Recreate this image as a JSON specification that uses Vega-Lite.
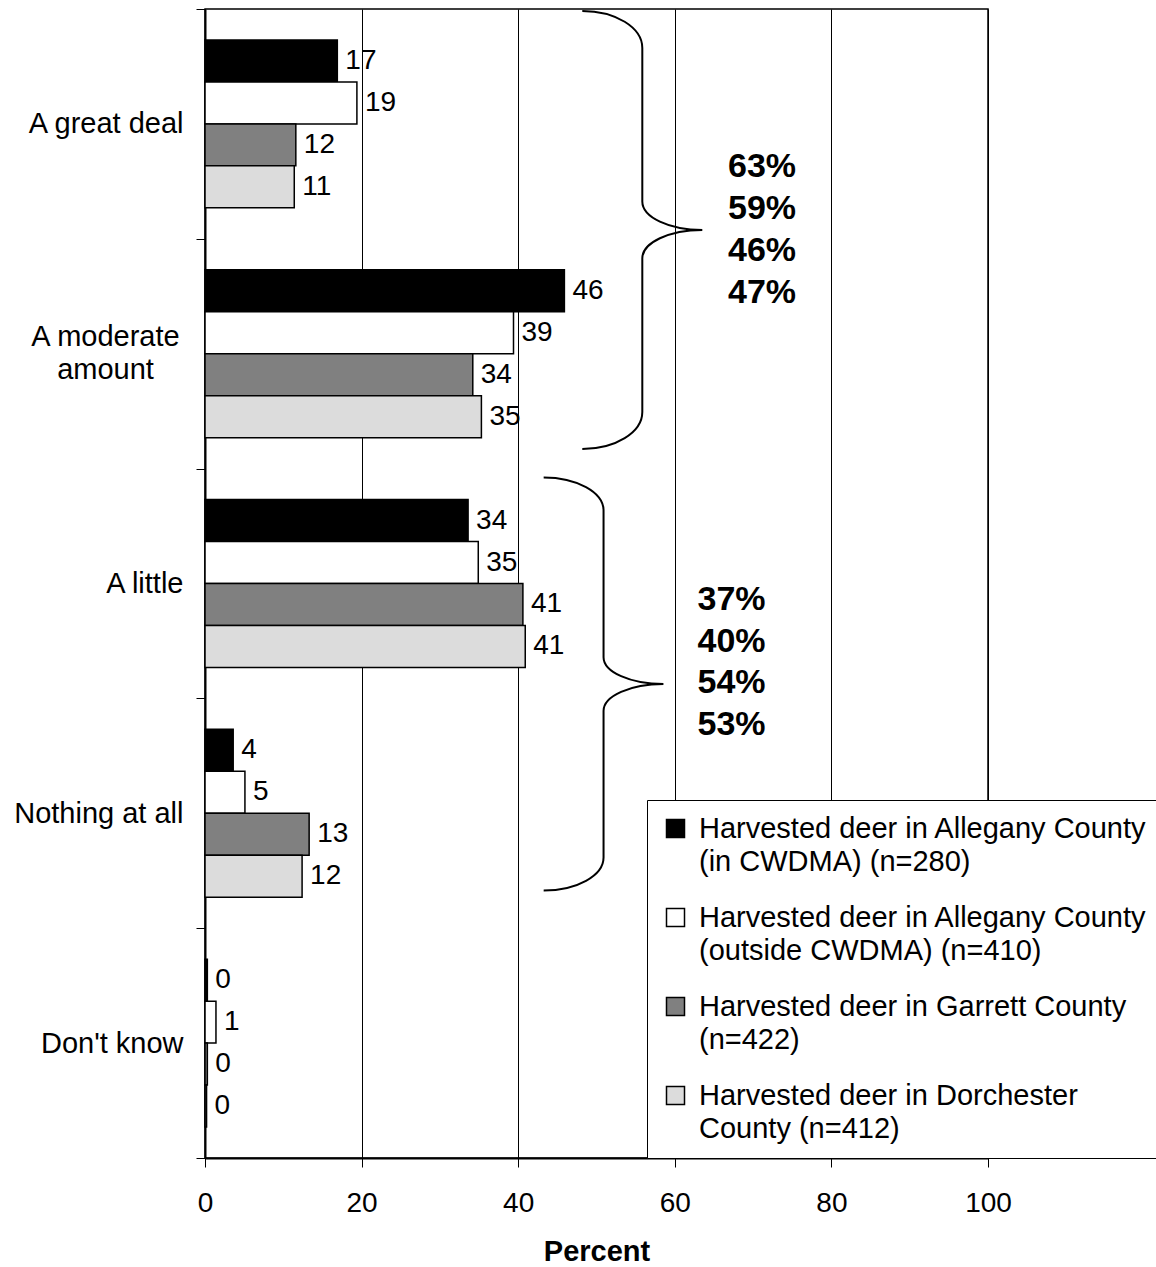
{
  "$schema": "https://vega.github.io/schema/vega-lite/v6.json",
  "width": 783,
  "height": 1149,
  "autosize": {"type": "none"},
  "padding": {"left": 205, "top": 9, "right": 168, "bottom": 109},
  "background": "white",
  "config": {
    "font": "Liberation Sans",
    "view": {"stroke": "black", "strokeWidth": 1.5},
    "style": {"guide-label": {"lineHeight": 33}}
  },
  "datasets": {
    "bars": [
      {"response": "A great deal", "group": "Harvested deer in Allegany County (in CWDMA) (n=280)", "percent": 16.9},
      {"response": "A great deal", "group": "Harvested deer in Allegany County (outside CWDMA) (n=410)", "percent": 19.4},
      {"response": "A great deal", "group": "Harvested deer in Garrett County (n=422)", "percent": 11.6},
      {"response": "A great deal", "group": "Harvested deer in Dorchester County (n=412)", "percent": 11.4},
      {"response": "A moderate amount", "group": "Harvested deer in Allegany County (in CWDMA) (n=280)", "percent": 45.9},
      {"response": "A moderate amount", "group": "Harvested deer in Allegany County (outside CWDMA) (n=410)", "percent": 39.4},
      {"response": "A moderate amount", "group": "Harvested deer in Garrett County (n=422)", "percent": 34.2},
      {"response": "A moderate amount", "group": "Harvested deer in Dorchester County (n=412)", "percent": 35.3},
      {"response": "A little", "group": "Harvested deer in Allegany County (in CWDMA) (n=280)", "percent": 33.6},
      {"response": "A little", "group": "Harvested deer in Allegany County (outside CWDMA) (n=410)", "percent": 34.9},
      {"response": "A little", "group": "Harvested deer in Garrett County (n=422)", "percent": 40.6},
      {"response": "A little", "group": "Harvested deer in Dorchester County (n=412)", "percent": 40.9},
      {"response": "Nothing at all", "group": "Harvested deer in Allegany County (in CWDMA) (n=280)", "percent": 3.6},
      {"response": "Nothing at all", "group": "Harvested deer in Allegany County (outside CWDMA) (n=410)", "percent": 5.1},
      {"response": "Nothing at all", "group": "Harvested deer in Garrett County (n=422)", "percent": 13.3},
      {"response": "Nothing at all", "group": "Harvested deer in Dorchester County (n=412)", "percent": 12.4},
      {"response": "Don't know", "group": "Harvested deer in Allegany County (in CWDMA) (n=280)", "percent": 0.3},
      {"response": "Don't know", "group": "Harvested deer in Allegany County (outside CWDMA) (n=410)", "percent": 1.4},
      {"response": "Don't know", "group": "Harvested deer in Garrett County (n=422)", "percent": 0.3},
      {"response": "Don't know", "group": "Harvested deer in Dorchester County (n=412)", "percent": 0.2}
    ],
    "totals": [
      {"span": "A great deal or a moderate amount", "group": "Harvested deer in Allegany County (in CWDMA) (n=280)", "share": 0.63},
      {"span": "A great deal or a moderate amount", "group": "Harvested deer in Allegany County (outside CWDMA) (n=410)", "share": 0.59},
      {"span": "A great deal or a moderate amount", "group": "Harvested deer in Garrett County (n=422)", "share": 0.46},
      {"span": "A great deal or a moderate amount", "group": "Harvested deer in Dorchester County (n=412)", "share": 0.47},
      {"span": "A little or nothing at all", "group": "Harvested deer in Allegany County (in CWDMA) (n=280)", "share": 0.37},
      {"span": "A little or nothing at all", "group": "Harvested deer in Allegany County (outside CWDMA) (n=410)", "share": 0.40},
      {"span": "A little or nothing at all", "group": "Harvested deer in Garrett County (n=422)", "share": 0.54},
      {"span": "A little or nothing at all", "group": "Harvested deer in Dorchester County (n=412)", "share": 0.53}
    ]
  },
  "layer": [
    {
      "data": {"name": "bars"},
      "mark": {"type": "bar", "stroke": "black", "strokeWidth": 1.5},
      "encoding": {
        "y": {
          "field": "response", "type": "nominal",
          "scale": {"domain": ["A great deal", "A moderate amount", "A little", "Nothing at all", "Don't know"], "paddingInner": 0, "paddingOuter": 0},
          "axis": {
            "title": null, "labelFontSize": 29, "labelColor": "black",
            "labelPadding": {"condition": {"test": "datum.value == 'A moderate amount'", "value": 91}, "value": 13},
            "labelAlign": {"condition": {"test": "datum.value == 'A moderate amount'", "value": "center"}, "value": "right"},
            "labelOffset": {"condition": {"test": "datum.value == 'A moderate amount'", "value": -17}, "value": 0},
            "tickBand": "extent", "tickSize": 9, "tickColor": "black", "tickWidth": 1,
            "domainColor": "black", "domainWidth": 2, "labelLimit": 300, "grid": false,
            "labelExpr": "datum.value == 'A moderate amount' ? ['A moderate', 'amount'] : datum.label"
          }
        },
        "yOffset": {
          "field": "group", "type": "nominal",
          "scale": {"domain": ["Harvested deer in Allegany County (in CWDMA) (n=280)", "Harvested deer in Allegany County (outside CWDMA) (n=410)", "Harvested deer in Garrett County (n=422)", "Harvested deer in Dorchester County (n=412)"], "paddingInner": 0, "paddingOuter": 0.738}
        },
        "x": {
          "field": "percent", "type": "quantitative",
          "scale": {"domain": [0, 100], "nice": false},
          "axis": {
            "title": "Percent", "titleFontSize": 29, "titleFontWeight": "bold", "titleColor": "black", "titlePadding": 20,
            "values": [0, 20, 40, 60, 80, 100], "labelFontSize": 28, "labelColor": "black", "labelPadding": 22,
            "tickSize": 9, "tickColor": "black", "domainColor": "black", "domainWidth": 2,
            "grid": true, "gridColor": "black", "gridWidth": 1, "labelFlush": false
          }
        },
        "fill": {
          "field": "group", "type": "nominal",
          "scale": {"domain": ["Harvested deer in Allegany County (in CWDMA) (n=280)", "Harvested deer in Allegany County (outside CWDMA) (n=410)", "Harvested deer in Garrett County (n=422)", "Harvested deer in Dorchester County (n=412)"], "range": ["#000000", "#ffffff", "#808080", "#dcdcdc"]},
          "legend": {
            "title": null, "orient": "none", "legendX": 442, "legendY": 791, "direction": "vertical",
            "fillColor": "white", "strokeColor": "black", "padding": 14,
            "symbolType": "square", "symbolSize": 324, "symbolStrokeColor": "black", "symbolStrokeWidth": 1.5, "symbolOpacity": 1,
            "labelFontSize": 29, "labelColor": "black", "labelOffset": 9, "labelLimit": 700, "rowPadding": 26,
            "labelExpr": "indexof(datum.label, 'Dorchester') >= 0 ? split(replace(datum.label, 'Dorchester ', 'Dorchester|'), '|') : split(replace(datum.label, 'County (', 'County|('), '|')"
          }
        }
      }
    },
    {
      "data": {"name": "bars"},
      "mark": {"type": "text", "align": "left", "baseline": "middle", "dx": 8, "fontSize": 28, "color": "black"},
      "encoding": {
        "y": {"field": "response", "type": "nominal"},
        "yOffset": {"field": "group", "type": "nominal"},
        "x": {"field": "percent", "type": "quantitative"},
        "text": {"field": "percent", "type": "quantitative", "format": ".0f"}
      }
    },
    {
      "data": {"name": "totals"},
      "transform": [{"filter": "datum.span == 'A great deal or a moderate amount'"}],
      "mark": {"type": "text", "align": "left", "baseline": "middle", "dy": 106, "fontSize": 34, "fontWeight": "bold", "color": "black"},
      "encoding": {
        "y": {"datum": "A great deal"},
        "yOffset": {"field": "group", "type": "nominal"},
        "x": {"datum": 66.8},
        "text": {"field": "share", "type": "quantitative", "format": ".0%"}
      }
    },
    {
      "data": {"name": "totals"},
      "transform": [{"filter": "datum.span == 'A little or nothing at all'"}],
      "mark": {"type": "text", "align": "left", "baseline": "middle", "dy": 79, "fontSize": 34, "fontWeight": "bold", "color": "black"},
      "encoding": {
        "y": {"datum": "A little"},
        "yOffset": {"field": "group", "type": "nominal"},
        "x": {"datum": 62.9},
        "text": {"field": "share", "type": "quantitative", "format": ".0%"}
      }
    },
    {
      "data": {"values": [{"span": "A great deal or a moderate amount"}]},
      "mark": {"type": "point", "shape": "M-0.274,-1C-0.123,-1,0,-0.924,0,-0.831L0,-0.13C0,-0.058,0.123,0,0.274,0C0.123,0,0,0.058,0,0.13L0,0.831C0,0.924,-0.123,1,-0.274,1", "size": 191844, "filled": false, "stroke": "black", "strokeWidth": 2, "opacity": 1, "yOffset": 106},
      "encoding": {
        "x": {"datum": 55.85},
        "y": {"datum": "A great deal"}
      }
    },
    {
      "data": {"values": [{"span": "A little or nothing at all"}]},
      "mark": {"type": "point", "shape": "M-0.29,-1C-0.13,-1,0,-0.928,0,-0.84L0,-0.13C0,-0.058,0.13,0,0.29,0C0.13,0,0,0.058,0,0.13L0,0.84C0,0.928,-0.13,1,-0.29,1", "size": 170569, "filled": false, "stroke": "black", "strokeWidth": 2, "opacity": 1, "yOffset": 100.5},
      "encoding": {
        "x": {"datum": 50.9},
        "y": {"datum": "A little"}
      }
    }
  ]
}
